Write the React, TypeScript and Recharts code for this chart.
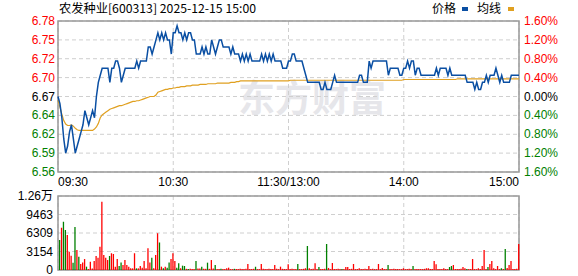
import React from "react";
import {
  ComposedChart,
  Line,
  Bar,
  Cell,
  XAxis,
  YAxis,
  CartesianGrid,
  ReferenceArea,
} from "recharts";

const title = "农发种业[600313] 2025-12-15 15:00";
const legendNames = ["价格", "均线"];
const prevClose = 6.67;

const timeTicks = [0, 60, 120, 180, 240];
const timeLabels = ["09:30", "10:30", "11:30/13:00", "14:00", "15:00"];
const priceTicks = [6.5633, 6.59, 6.6166, 6.6433, 6.67, 6.6967, 6.7234, 6.75, 6.7767];
const pctTicks = [-1.6, -1.2, -0.8, -0.4, 0, 0.4, 0.8, 1.2, 1.6];
const volTicks = [0, 3154, 6309, 9463, 12618];
const volLabels = ["0", "3154", "6309", "9463", "1.26万"];

// one point per minute, 09:30 .. 15:00
const prices = [
  6.67, 6.66, 6.64, 6.61, 6.59, 6.6, 6.62, 6.63, 6.61, 6.59,
  6.6, 6.61, 6.62, 6.63, 6.65, 6.64, 6.63, 6.64, 6.65, 6.64,
  6.67, 6.69, 6.7, 6.71, 6.71, 6.71, 6.71, 6.69, 6.71, 6.71,
  6.72, 6.72, 6.71, 6.69, 6.7, 6.71, 6.71, 6.71, 6.71, 6.71,
  6.71, 6.72, 6.71, 6.72, 6.72, 6.72, 6.72, 6.74, 6.74, 6.73,
  6.74, 6.75, 6.76, 6.75, 6.76, 6.75, 6.76, 6.75, 6.75, 6.73,
  6.76, 6.76, 6.77, 6.76, 6.76, 6.75, 6.76, 6.75, 6.76, 6.76,
  6.75, 6.75, 6.73, 6.73, 6.73, 6.74, 6.73, 6.74, 6.73, 6.73,
  6.75, 6.74, 6.73, 6.74, 6.75, 6.75, 6.74, 6.74, 6.74, 6.74,
  6.73, 6.74, 6.73, 6.73, 6.73, 6.72, 6.73, 6.72, 6.73, 6.72,
  6.73, 6.72, 6.72, 6.72, 6.72, 6.72, 6.73, 6.72, 6.73, 6.72,
  6.73, 6.72, 6.73, 6.72, 6.72, 6.72, 6.72, 6.71, 6.71, 6.71,
  6.72, 6.72, 6.73, 6.73, 6.72, 6.72, 6.72, 6.72, 6.71, 6.7,
  6.69, 6.69, 6.69, 6.69, 6.69, 6.69, 6.69, 6.68, 6.68, 6.69,
  6.68, 6.68, 6.68, 6.69, 6.7, 6.69, 6.69, 6.69, 6.69, 6.69,
  6.69, 6.69, 6.69, 6.69, 6.69, 6.69, 6.69, 6.7, 6.7, 6.69,
  6.69, 6.69, 6.72, 6.71, 6.72, 6.72, 6.72, 6.72, 6.72, 6.72,
  6.72, 6.72, 6.7, 6.71, 6.71, 6.71, 6.71, 6.71, 6.7, 6.7,
  6.71, 6.71, 6.72, 6.71, 6.72, 6.72, 6.7, 6.71, 6.71, 6.7,
  6.7, 6.7, 6.7, 6.7, 6.7, 6.7, 6.7, 6.71, 6.7, 6.71,
  6.71, 6.71, 6.71, 6.7, 6.71, 6.7, 6.7, 6.7, 6.7, 6.7,
  6.7, 6.7, 6.7, 6.69, 6.69, 6.69, 6.69, 6.68, 6.69, 6.68,
  6.68, 6.69, 6.69, 6.7, 6.69, 6.7, 6.7, 6.7, 6.71, 6.7,
  6.69, 6.7, 6.69, 6.69, 6.69, 6.69, 6.7, 6.7, 6.7, 6.7,
  6.7,
];

const avgPrices = [
  6.665, 6.655, 6.645, 6.636, 6.631, 6.629, 6.629, 6.63, 6.628, 6.625,
  6.623, 6.622, 6.622, 6.622, 6.622, 6.622, 6.622, 6.622, 6.622, 6.624,
  6.627, 6.632, 6.64, 6.644, 6.646, 6.648, 6.65, 6.652, 6.653, 6.654,
  6.655, 6.656, 6.657, 6.657, 6.658, 6.659, 6.66, 6.661, 6.662, 6.663,
  6.663, 6.664, 6.664, 6.665, 6.666, 6.667, 6.668, 6.669, 6.67, 6.67,
  6.67, 6.672, 6.676, 6.677, 6.678, 6.679, 6.68, 6.68, 6.681, 6.681,
  6.682, 6.682, 6.683, 6.683, 6.684, 6.684, 6.684, 6.685, 6.685, 6.685,
  6.686, 6.686, 6.686, 6.686, 6.687, 6.687, 6.687, 6.687, 6.688, 6.688,
  6.688, 6.688, 6.688, 6.689, 6.689, 6.689, 6.689, 6.689, 6.689, 6.689,
  6.69, 6.69, 6.69, 6.691, 6.691, 6.692, 6.692, 6.692, 6.692, 6.692,
  6.692, 6.692, 6.692, 6.692, 6.692, 6.692, 6.692, 6.692, 6.692, 6.692,
  6.692, 6.692, 6.692, 6.692, 6.692, 6.692, 6.692, 6.692, 6.692, 6.692,
  6.692, 6.693, 6.693, 6.693, 6.693, 6.693, 6.693, 6.693, 6.693, 6.693,
  6.693, 6.693, 6.693, 6.693, 6.693, 6.693, 6.693, 6.693, 6.693, 6.693,
  6.693, 6.693, 6.693, 6.693, 6.693, 6.693, 6.693, 6.693, 6.693, 6.693,
  6.693, 6.693, 6.693, 6.693, 6.693, 6.693, 6.693, 6.693, 6.693, 6.693,
  6.693, 6.693, 6.693, 6.693, 6.693, 6.693, 6.693, 6.693, 6.693, 6.693,
  6.693, 6.693, 6.693, 6.693, 6.693, 6.693, 6.693, 6.693, 6.693, 6.693,
  6.694, 6.694, 6.694, 6.694, 6.694, 6.694, 6.694, 6.694, 6.694, 6.694,
  6.694, 6.694, 6.694, 6.694, 6.694, 6.694, 6.694, 6.694, 6.694, 6.694,
  6.694, 6.694, 6.694, 6.694, 6.694, 6.694, 6.694, 6.694, 6.695, 6.695,
  6.695, 6.695, 6.695, 6.695, 6.695, 6.695, 6.695, 6.695, 6.695, 6.695,
  6.695, 6.695, 6.695, 6.695, 6.695, 6.695, 6.695, 6.695, 6.695, 6.695,
  6.695, 6.695, 6.695, 6.695, 6.695, 6.695, 6.695, 6.695, 6.695, 6.695,
  6.695,
];

const volumes = [
  0, 5100, 7200, 8240, 6800, 5960, 3120, 2440, 1250, 7330,
  3400, 2270, 1020, 1300, 1870, 570, 170, 1420, 250, 1530,
  2390, 2100, 3980, 11650, 2560, 2100, 1700, 2390, 2840, 2730,
  570, 1870, 680, 1300, 850, 1700, 850, 570, 280, 280,
  2840, 280, 280, 680, 400, 1530, 280, 3700, 1300, 2100,
  280, 2560, 6250, 4700, 570, 280, 570, 400, 1300, 1870,
  2840, 1530, 400, 1140, 300, 740, 680, 200, 150, 200,
  150, 150, 1530, 250, 250, 570, 200, 200, 1250, 200,
  1700, 250, 850, 150, 150, 200, 150, 150, 300, 400,
  150, 150, 200, 150, 150, 200, 150, 150, 200, 1020,
  150, 150, 200, 570, 150, 150, 1020, 200, 150, 150,
  200, 150, 150, 850, 200, 150, 570, 200, 150, 150,
  970, 150, 200, 150, 150, 1020, 150, 150, 200, 300,
  4090, 280, 150, 200, 1140, 150, 510, 150, 150, 200,
  4430, 350, 150, 1190, 150, 150, 200, 150, 150, 150,
  500, 500, 150, 200, 1020, 150, 150, 300, 150, 150,
  200, 150, 680, 150, 200, 150, 150, 1020, 150, 350,
  150, 150, 850, 150, 150, 200, 150, 150, 150, 150,
  300, 150, 150, 200, 150, 680, 150, 150, 150, 150,
  150, 200, 300, 300, 150, 150, 1530, 1000, 150, 150,
  150, 300, 150, 150, 510, 680, 850, 150, 150, 150,
  200, 510, 300, 150, 150, 150, 1870, 150, 150, 300,
  150, 680, 3400, 150, 510, 1020, 1530, 300, 150, 680,
  150, 300, 150, 3580, 350, 850, 1530, 150, 150, 200,
  4430,
];

// minutes whose volume bar is drawn green (price fell)
const greenBars = [
  1, 3, 4, 8, 9, 11, 15, 27, 32, 33, 41, 49, 53, 55, 57, 58, 62, 63, 65, 66,
  68, 72, 75, 78, 82, 85, 92, 103, 125, 130, 136, 140, 148, 172, 185, 204,
  205, 213, 224, 231, 233,
];

const data = prices.map((p, i) => ({
  i,
  price: p,
  avg: avgPrices[i],
  vol: volumes[i],
  down: greenBars.includes(i),
}));

const W = 578;
const LEFT = 58;
const RIGHT = 59;
const FONT = "'Liberation Sans', Arial, 'Noto Sans CJK SC', sans-serif";
const RED = "#ff0000";
const GREEN = "#008000";
const GRID = "#cfcfcf";
const BORDER = "#999999";
const BLUE = "#0a4fa3";
const ORANGE = "#e0a020";

const sideColor = (v: number, mid: number) =>
  Math.abs(v - mid) < 0.001 ? "#000" : v > mid ? RED : GREEN;

const PriceTick = (props: any) => {
  const { y, payload } = props;
  return (
    <text x={LEFT - 3} y={y + 4} textAnchor="end" fontSize={12} fontFamily={FONT} fill={sideColor(payload.value, prevClose)}>
      {payload.value.toFixed(2)}
    </text>
  );
};

const PctTick = (props: any) => {
  const { y, payload } = props;
  return (
    <text x={W - RIGHT + 5} y={y + 4} textAnchor="start" fontSize={12} fontFamily={FONT} fill={sideColor(payload.value, 0)}>
      {Math.abs(payload.value).toFixed(2) + "%"}
    </text>
  );
};

const TimeTick = (props: any) => {
  const { x, payload } = props;
  const k = timeTicks.indexOf(payload.value);
  const anchor = k === 0 ? "start" : k === timeTicks.length - 1 ? "end" : "middle";
  return (
    <text x={x} y={186} textAnchor={anchor} fontSize={12} fontFamily={FONT} fill="#000">
      {timeLabels[k]}
    </text>
  );
};

const VolTick = (props: any) => {
  const { y, payload } = props;
  const k = volTicks.indexOf(payload.value);
  return (
    <text x={LEFT - 5} y={y + 4} textAnchor="end" fontSize={12} fontFamily={FONT} fill="#000">
      {volLabels[k]}
    </text>
  );
};

export default function App() {
  return (
    <div style={{ position: "absolute", left: 0, top: 0, width: W, height: 276, background: "#fff", overflow: "hidden" }}>
      {/* watermark */}
      <div
        style={{
          position: "absolute",
          left: 238,
          top: 73,
          fontSize: 37,
          fontWeight: 700,
          color: "#e6e6ea",
          fontFamily: "'Noto Sans CJK SC', sans-serif",
          letterSpacing: 0,
          lineHeight: "46px",
        }}
      >
        东方财富
      </div>

      <svg width={W} height={20} style={{ position: "absolute", left: 0, top: 0 }}>
        <text x={59} y={13} fontSize={12} fontFamily="'Noto Sans CJK SC', sans-serif" textLength={197} lengthAdjust="spacingAndGlyphs" fill="#000">
          {title}
        </text>
        <text x={432} y={13} fontSize={12} fontFamily="'Noto Sans CJK SC', sans-serif" fill="#000">
          {legendNames[0]}
        </text>
        <rect x={462} y={7} width={6} height={4} fill={BLUE} />
        <text x={477} y={13} fontSize={12} fontFamily="'Noto Sans CJK SC', sans-serif" fill="#000">
          {legendNames[1]}
        </text>
        <rect x={508} y={7} width={6} height={4} fill={ORANGE} />
      </svg>

      <div style={{ position: "absolute", left: 0, top: 0 }}>
        <ComposedChart width={W} height={190} data={data} margin={{ top: 21, right: 0, left: 0, bottom: 0 }}>
          <CartesianGrid yAxisId="p" stroke={GRID} strokeDasharray="4 3" />
          <XAxis
            dataKey="i"
            type="number"
            domain={[0, 240]}
            ticks={timeTicks}
            interval={0}
            height={18}
            axisLine={false}
            tickLine={false}
            tick={<TimeTick />}
          />
          <YAxis
            yAxisId="p"
            width={LEFT}
            domain={[priceTicks[0], priceTicks[priceTicks.length - 1]]}
            ticks={priceTicks}
            interval={0}
            allowDataOverflow
            axisLine={false}
            tickLine={false}
            tick={<PriceTick />}
          />
          <YAxis
            yAxisId="pct"
            orientation="right"
            width={RIGHT}
            domain={[pctTicks[0], pctTicks[pctTicks.length - 1]]}
            ticks={pctTicks}
            interval={0}
            allowDataOverflow
            axisLine={false}
            tickLine={false}
            tick={<PctTick />}
          />
          <ReferenceArea
            yAxisId="p"
            x1={0}
            x2={240}
            y1={priceTicks[0]}
            y2={priceTicks[priceTicks.length - 1]}
            fill="none"
            stroke={BORDER}
            strokeWidth={1.5}
            ifOverflow="visible"
          />
          <Line
            yAxisId="pct"
            dataKey={(d: any) => (d.price / prevClose - 1) * 100}
            stroke="none"
            dot={false}
            activeDot={false}
            isAnimationActive={false}
          />
          <Line yAxisId="p" type="linear" dataKey="avg" stroke={ORANGE} strokeWidth={1.2} dot={false} isAnimationActive={false} />
          <Line yAxisId="p" type="linear" dataKey="price" stroke={BLUE} strokeWidth={1.5} dot={false} isAnimationActive={false} />
        </ComposedChart>
      </div>

      <div style={{ position: "absolute", left: 0, top: 190 }}>
        <ComposedChart width={W} height={86} data={data} margin={{ top: 6, right: RIGHT, left: 0, bottom: 6 }}>
          <CartesianGrid stroke={GRID} strokeDasharray="4 3" />
          <XAxis dataKey="i" type="number" domain={[0, 240]} ticks={timeTicks} interval={0} hide />
          <YAxis
            width={LEFT}
            domain={[0, volTicks[volTicks.length - 1]]}
            ticks={volTicks}
            interval={0}
            allowDataOverflow
            axisLine={false}
            tickLine={false}
            tick={<VolTick />}
          />
          <ReferenceArea
            x1={0}
            x2={240}
            y1={0}
            y2={volTicks[volTicks.length - 1]}
            fill="none"
            stroke={BORDER}
            strokeWidth={1.5}
            ifOverflow="visible"
          />
          <Bar dataKey="vol" barSize={1.3} isAnimationActive={false}>
            {data.map((d) => (
              <Cell key={d.i} fill={d.down ? GREEN : RED} />
            ))}
          </Bar>
        </ComposedChart>
      </div>
    </div>
  );
}
